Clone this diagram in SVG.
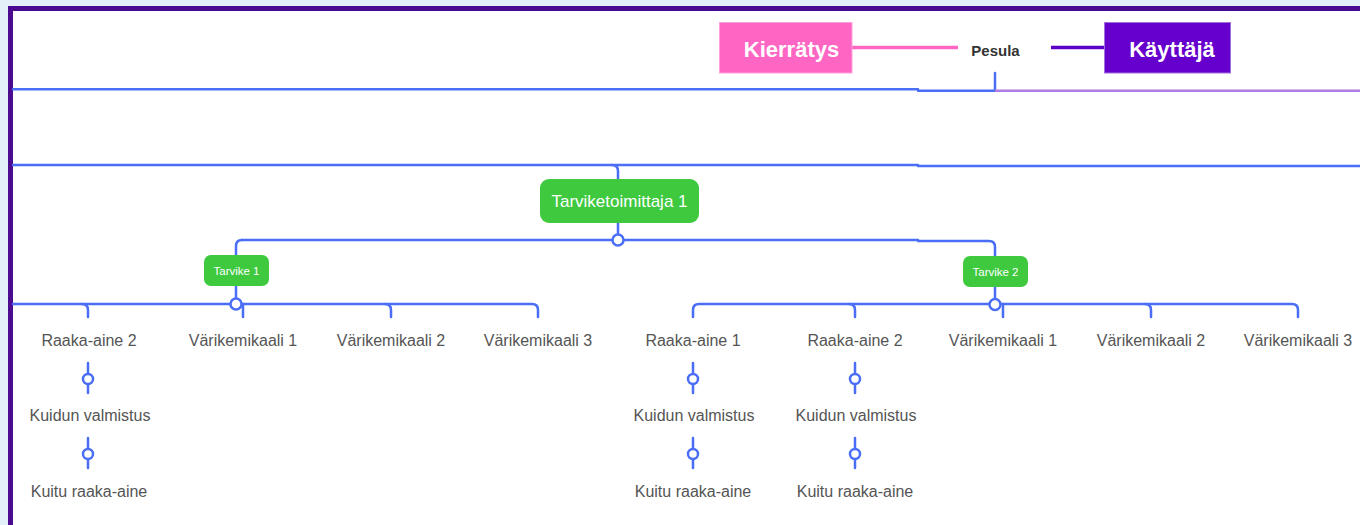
<svg xmlns="http://www.w3.org/2000/svg" width="1360" height="525" viewBox="0 0 1360 525">
<style>
.c{fill:none;stroke:#4a6ef5;stroke-width:2.5;stroke-linecap:round;stroke-linejoin:round}
.k{fill:#fff;stroke:#4a6ef5;stroke-width:2.5}
.g{fill:#3ec93f}
.wt{fill:#fff;font-family:"Liberation Sans",Arial,sans-serif;text-anchor:middle}
.lb{fill:#555;font-family:"Liberation Sans",Arial,sans-serif;font-size:16px;text-anchor:middle}
.bx{fill:#fff;font-family:"Liberation Sans",Arial,sans-serif;font-size:22px;font-weight:bold;text-anchor:middle}
</style>
<rect x="0" y="0" width="1360" height="525" fill="#e3f0fa"/>
<rect x="10.5" y="8.5" width="1400" height="600" fill="#fff" stroke="#4b0a8f" stroke-width="5"/>
<g id="connectors">
<path d="M852 47.5H958" stroke="#ff66c4" stroke-width="3.5" fill="none"/>
<path d="M1051 47.5H1104" stroke="#5c00c8" stroke-width="3.5" fill="none"/>
<path class="c" d="M13 89.3H918M918 90.7H995M995 90.7V73"/>
<path d="M995 90.7H1360" stroke="#b07be6" stroke-width="2.5" fill="none"/>
<path class="c" d="M13 165H918M918 166H1360"/>
<path class="c" d="M612 165Q618 165 618 171V179"/>
<path class="c" d="M618 223V240M242 240H918M918 241H989Q995 241 995 247V256"/>
<path class="c" d="M242 240Q236 240 236 246V255"/>
<path class="c" d="M236 286V304M13 304H532Q538 304 538 310V317"/>
<path class="c" d="M82 304Q88 304 88 310V317"/>
<path class="c" d="M243 304V317"/>
<path class="c" d="M385 304Q391 304 391 310V317"/>
<path class="c" d="M995 287V304M699 304Q693 304 693 310V317M699 304H1292Q1298 304 1298 310V317"/>
<path class="c" d="M849 304Q855 304 855 310V317"/>
<path class="c" d="M1003 304V317"/>
<path class="c" d="M1145 304Q1151 304 1151 310V317"/>
<path class="c" d="M88 363V393M88 438V468M693 363V393M693 438V468M855 363V393M855 438V468"/>
<circle class="k" cx="618" cy="240" r="5.5"/>
<circle class="k" cx="236" cy="304" r="5.5"/>
<circle class="k" cx="995" cy="304.5" r="5.5"/>
<circle class="k" cx="88" cy="379" r="5"/>
<circle class="k" cx="88" cy="454" r="5"/>
<circle class="k" cx="693" cy="379" r="5"/>
<circle class="k" cx="693" cy="454" r="5"/>
<circle class="k" cx="855" cy="379" r="5"/>
<circle class="k" cx="855" cy="454" r="5"/>
</g>
<g id="kierratys">
<rect x="719.5" y="22.5" width="132.5" height="50.5" fill="#ff66c4" stroke="#ffa0dc" stroke-width="1"/>
<text class="bx" x="791.5" y="57">Kierrätys</text>
</g>
<g id="pesula">
<text x="995.5" y="55.5" fill="#333" font-family="Liberation Sans,Arial,sans-serif" font-size="15" font-weight="bold" text-anchor="middle">Pesula</text>
</g>
<g id="kayttaja">
<rect x="1104.5" y="22.5" width="126" height="50.5" fill="#6600cc" stroke="#a070e0" stroke-width="1"/>
<text class="bx" x="1172" y="57">Käyttäjä</text>
</g>
<g id="tarviketoimittaja1">
<rect class="g" x="540" y="179" width="159" height="44" rx="9"/>
<text class="wt" x="619.5" y="207" font-size="17">Tarviketoimittaja 1</text>
</g>
<g id="tarvike1">
<rect class="g" x="204" y="255" width="65" height="31" rx="7"/>
<text class="wt" x="236.5" y="275" font-size="11.5">Tarvike 1</text>
</g>
<g id="tarvike2">
<rect class="g" x="963" y="256" width="65" height="31" rx="7"/>
<text class="wt" x="995.5" y="276" font-size="11.5">Tarvike 2</text>
</g>
<g id="left-raaka-aine-2"><text class="lb" x="89" y="346">Raaka-aine 2</text></g>
<g id="left-kuidun-valmistus"><text class="lb" x="90" y="421">Kuidun valmistus</text></g>
<g id="left-kuitu-raaka-aine"><text class="lb" x="89" y="497">Kuitu raaka-aine</text></g>
<g id="left-varikemikaali-1"><text class="lb" x="243" y="346">Värikemikaali 1</text></g>
<g id="left-varikemikaali-2"><text class="lb" x="391" y="346">Värikemikaali 2</text></g>
<g id="left-varikemikaali-3"><text class="lb" x="538" y="346">Värikemikaali 3</text></g>
<g id="right-raaka-aine-1"><text class="lb" x="693" y="346">Raaka-aine 1</text></g>
<g id="right-raaka-aine-1-kuidun"><text class="lb" x="694" y="421">Kuidun valmistus</text></g>
<g id="right-raaka-aine-1-kuitu"><text class="lb" x="693" y="497">Kuitu raaka-aine</text></g>
<g id="right-raaka-aine-2"><text class="lb" x="855" y="346">Raaka-aine 2</text></g>
<g id="right-raaka-aine-2-kuidun"><text class="lb" x="856" y="421">Kuidun valmistus</text></g>
<g id="right-raaka-aine-2-kuitu"><text class="lb" x="855" y="497">Kuitu raaka-aine</text></g>
<g id="right-varikemikaali-1"><text class="lb" x="1003" y="346">Värikemikaali 1</text></g>
<g id="right-varikemikaali-2"><text class="lb" x="1151" y="346">Värikemikaali 2</text></g>
<g id="right-varikemikaali-3"><text class="lb" x="1298" y="346">Värikemikaali 3</text></g>
</svg>
